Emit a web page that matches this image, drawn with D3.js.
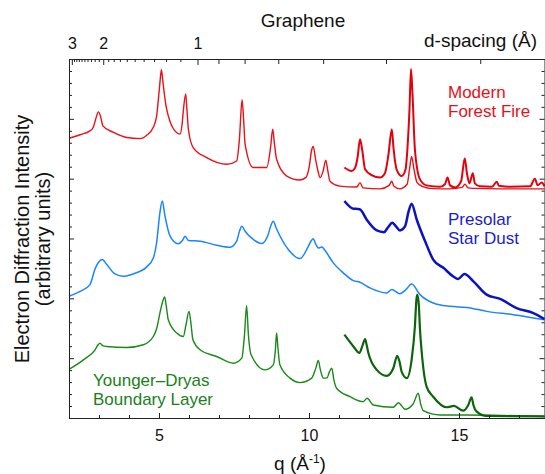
<!DOCTYPE html>
<html>
<head>
<meta charset="utf-8">
<script src="https://cdn.jsdelivr.net/npm/d3@7"></script>
<style>
  body { margin: 0; background: #fff; }
  svg { display: block; font-family: 'Liberation Sans', Arial, Helvetica, sans-serif; }
</style>
</head>
<body>
<div id="chart"></div>
<script>
// [q (1/A), intensity (arbitrary units)]
const fire = [[2.00,23.38],[2.37,23.67],[2.70,23.99],[2.81,24.30],[2.90,25.06],[2.98,25.58],[3.05,25.22],[3.13,24.41],[3.47,23.88],[3.92,23.44],[4.37,23.35],[4.59,23.63],[4.81,24.30],[4.92,25.22],[4.98,26.65],[5.03,27.99],[5.08,29.10],[5.12,28.33],[5.17,27.24],[5.23,26.15],[5.31,25.25],[5.53,23.99],[5.70,23.72],[5.77,24.55],[5.81,25.64],[5.89,27.07],[5.93,25.81],[5.98,24.13],[6.14,22.60],[6.59,21.76],[7.26,21.20],[7.59,21.48],[7.68,23.30],[7.77,26.59],[7.82,24.97],[7.87,22.88],[8.14,20.93],[8.59,20.93],[8.72,22.63],[8.79,24.13],[8.85,22.88],[8.92,21.62],[9.26,20.22],[9.70,19.89],[9.90,20.11],[10.02,21.20],[10.08,22.29],[10.14,22.69],[10.22,21.62],[10.30,20.62],[10.37,20.09],[10.47,20.62],[10.56,21.54],[10.63,20.62],[10.70,19.78],[11.03,19.38],[11.59,19.30],[11.70,19.67],[11.80,19.23],[12.37,19.15],[12.67,19.44],[12.76,19.78],[12.83,19.36],[13.03,19.15],[13.27,19.53],[13.35,20.78],[13.42,21.85],[13.50,20.78],[13.60,19.69],[13.77,19.36],[14.14,19.17],[14.70,19.15],[15.10,19.27],[15.20,19.53],[15.30,19.23],[15.47,19.19],[16.37,19.15],[17.03,19.15],[17.85,19.15]];
const fireZoom = [[11.18,20.93],[11.42,20.64],[11.53,20.87],[11.62,21.79],[11.70,23.30],[11.77,22.46],[11.87,20.78],[12.10,20.28],[12.37,20.09],[12.53,20.45],[12.65,22.04],[12.76,24.13],[12.82,22.46],[12.92,20.78],[13.09,20.22],[13.22,20.78],[13.28,22.46],[13.35,25.81],[13.40,29.16],[13.45,27.07],[13.53,22.46],[13.70,19.94],[13.92,19.44],[14.37,19.32],[14.53,19.53],[14.62,20.09],[14.70,19.44],[14.87,19.27],[15.07,19.78],[15.19,21.68],[15.27,20.36],[15.35,19.61],[15.46,20.45],[15.53,19.61],[15.70,19.36],[16.10,19.32],[16.26,19.75],[16.33,19.40],[16.70,19.32],[17.37,19.36],[17.53,20.00],[17.62,19.44],[17.76,19.69],[17.85,19.36]];
const dust = [[2.00,10.18],[2.37,10.58],[2.70,11.15],[2.87,12.46],[2.98,12.99],[3.11,13.24],[3.26,12.82],[3.53,12.04],[3.81,11.84],[4.14,12.04],[4.59,12.63],[4.81,13.38],[4.92,14.64],[5.03,17.15],[5.11,18.13],[5.20,16.87],[5.37,15.19],[5.64,14.56],[5.78,14.83],[5.87,15.19],[5.98,14.83],[6.37,14.78],[6.92,14.44],[7.37,14.27],[7.59,14.78],[7.68,15.59],[7.76,16.03],[7.87,15.61],[8.14,14.92],[8.42,14.58],[8.64,15.34],[8.73,16.09],[8.81,16.45],[8.90,15.92],[8.98,15.48],[9.31,14.08],[9.70,13.32],[9.98,14.36],[10.08,14.83],[10.14,14.97],[10.23,14.50],[10.31,14.20],[10.43,14.30],[10.53,14.02],[10.81,12.96],[11.14,12.13],[11.48,11.48],[11.70,11.34],[12.03,10.87],[12.59,10.45],[12.76,10.73],[13.03,10.39],[13.23,10.73],[13.42,11.20],[13.70,10.31],[14.14,9.61],[14.70,9.33],[15.26,9.24],[15.92,8.91],[16.81,8.63],[17.85,8.21]];
const dustZoom = [[11.18,18.13],[11.48,17.49],[11.63,17.47],[11.70,17.43],[11.92,16.59],[12.26,15.67],[12.50,15.53],[12.63,15.92],[12.78,16.31],[12.90,16.01],[13.03,15.67],[13.20,16.01],[13.32,17.26],[13.42,17.91],[13.59,16.59],[13.87,14.77],[14.14,13.24],[14.48,12.55],[14.81,11.82],[14.97,11.61],[15.18,12.03],[15.48,11.42],[15.92,10.31],[16.37,9.95],[16.92,9.19],[17.48,8.77],[17.85,8.27]];
const ydb = [[2.00,4.06],[2.48,4.86],[2.87,5.70],[2.97,6.12],[3.03,6.26],[3.13,6.03],[3.26,5.98],[3.92,5.89],[4.48,6.12],[4.81,6.81],[4.93,7.54],[5.03,8.77],[5.12,9.72],[5.19,10.11],[5.25,9.22],[5.31,8.21],[5.59,7.10],[5.81,6.81],[5.90,7.79],[6.00,8.91],[6.07,7.79],[6.13,6.54],[6.37,5.70],[6.92,5.14],[7.48,4.58],[7.76,5.00],[7.85,6.96],[7.92,9.39],[7.98,6.96],[8.07,5.28],[8.53,4.02],[8.81,4.44],[8.88,5.70],[8.92,7.10],[8.97,5.70],[9.03,4.44],[9.37,3.33],[9.70,2.96],[10.09,3.33],[10.23,4.19],[10.31,4.80],[10.38,4.02],[10.48,3.33],[10.60,3.35],[10.68,3.85],[10.76,4.16],[10.83,3.18],[10.92,2.49],[11.37,1.78],[11.81,1.37],[11.94,1.65],[12.14,1.09],[12.81,0.90],[12.98,1.28],[13.20,0.73],[13.47,1.17],[13.64,2.07],[13.73,1.09],[13.81,0.61],[14.37,0.25],[15.26,0.25],[17.85,0.13]];
const ydbZoom = [[11.18,6.96],[11.48,5.98],[11.68,5.43],[11.78,6.03],[11.87,6.60],[11.92,6.12],[11.98,5.43],[12.26,4.02],[12.59,3.52],[12.81,4.16],[12.94,5.20],[13.02,4.69],[13.09,3.85],[13.26,3.33],[13.42,4.86],[13.53,7.65],[13.58,9.89],[13.61,10.31],[13.66,9.47],[13.70,7.37],[13.76,5.43],[13.92,2.62],[14.14,1.78],[14.59,0.90],[14.83,1.01],[15.14,0.61],[15.31,1.09],[15.42,1.73],[15.48,1.09],[15.59,0.53],[15.92,0.17],[17.85,0.13]];

const qMajor = [5, 10, 15];
const qMinor = [3, 4, 6, 7, 8, 9, 11, 12, 13, 14, 16, 17];
const dMajor = [3, 2, 1];
const dMinor = [2.9, 2.8, 2.7, 2.6, 2.5, 2.4, 2.3, 2.2, 2.1, 1.9, 1.8, 1.7, 1.6, 1.5, 1.4, 1.3, 1.2, 1.1];
const dSub = [0.9, 0.8, 0.7, 0.6, 0.5, 0.4];
const yMajor = [0, 5, 10, 15, 20, 25, 30];
const yMinor = d3.range(1, 30).filter(v => v % 5 !== 0);

const W = 545, H = 474;
const box = { left: 69, right: 544.5, top: 59, bottom: 418 };

const svg = d3.select('#chart').append('svg').attr('width', W).attr('height', H);

const x = d3.scaleLinear().domain([2, 17.85]).range([box.left, box.right]);
const y = d3.scaleLinear().domain([0, 30]).range([box.bottom, box.top]);

const line = d3.line().x(d => x(d[0])).y(d => y(d[1])).curve(d3.curveMonotoneX);

// curves
const curves = [
  { data: ydb, color: '#188a18', w: 1.4 },
  { data: ydbZoom, color: '#0c650c', w: 2.2 },
  { data: dust, color: '#1a85ff', w: 1.5 },
  { data: dustZoom, color: '#0a12c4', w: 2.5 },
  { data: fire, color: '#ec0f16', w: 1.4 },
  { data: fireZoom, color: '#e4000c', w: 2.0 }
];
svg.append('g').selectAll('path').data(curves).enter().append('path')
  .attr('d', d => line(d.data))
  .attr('fill', 'none')
  .attr('stroke', d => d.color)
  .attr('stroke-width', d => d.w)
  .attr('stroke-linejoin', 'round');

// axes, ticks point inward
function styleAxis(g, keepDomain) {
  g.attr('font-family', null).attr('font-size', null);
  g.selectAll('line').attr('stroke', '#222');
  g.select('.domain').attr('stroke', '#222');
  if (!keepDomain) g.select('.domain').remove();
  g.selectAll('text').attr('fill', '#111').style('font-size', '16px');
}

svg.append('g').attr('transform', `translate(0,${box.bottom})`)
  .call(d3.axisBottom(x).tickValues(qMajor).tickSizeInner(-5).tickSizeOuter(0).tickPadding(11.5))
  .call(g => styleAxis(g, true));
svg.append('g').attr('transform', `translate(0,${box.bottom})`)
  .call(d3.axisBottom(x).tickValues(qMinor).tickSizeInner(-3).tickSizeOuter(0).tickFormat(''))
  .call(g => styleAxis(g, false));

const dq = d => 2 * Math.PI / d;
svg.append('g').attr('transform', `translate(0,${box.top})`)
  .call(d3.axisTop(x).tickValues(dMajor.map(dq)).tickSizeInner(-6).tickSizeOuter(0).tickPadding(10.5)
    .tickFormat(q => d3.format('d')(Math.round(2 * Math.PI / q))))
  .call(g => styleAxis(g, true));
svg.append('g').attr('transform', `translate(0,${box.top})`)
  .call(d3.axisTop(x).tickValues(dMinor.map(dq)).tickSizeInner(-3).tickSizeOuter(0).tickFormat(''))
  .call(g => styleAxis(g, false));
svg.append('g').attr('transform', `translate(0,${box.top})`)
  .call(d3.axisTop(x).tickValues(dSub.map(dq)).tickSizeInner(-5).tickSizeOuter(0).tickFormat(''))
  .call(g => styleAxis(g, false));

svg.append('g').attr('transform', `translate(${box.left},0)`)
  .call(d3.axisLeft(y).tickValues(yMajor).tickSizeInner(-5).tickSizeOuter(0).tickFormat(''))
  .call(g => styleAxis(g, true));
svg.append('g').attr('transform', `translate(${box.left},0)`)
  .call(d3.axisLeft(y).tickValues(yMinor).tickSizeInner(-3).tickSizeOuter(0).tickFormat(''))
  .call(g => styleAxis(g, false));
svg.append('g').attr('transform', `translate(${box.right},0)`)
  .call(d3.axisRight(y).tickValues(yMajor).tickSizeInner(-5).tickSizeOuter(0).tickFormat(''))
  .call(g => styleAxis(g, true));
svg.append('g').attr('transform', `translate(${box.right},0)`)
  .call(d3.axisRight(y).tickValues(yMinor).tickSizeInner(-3).tickSizeOuter(0).tickFormat(''))
  .call(g => styleAxis(g, false));

// titles
svg.append('text').attr('x', 303).attr('y', 27).attr('text-anchor', 'middle')
  .style('font-size', '19px').attr('fill', '#111').text('Graphene');
svg.append('text').attr('x', 537).attr('y', 47).attr('text-anchor', 'end')
  .style('font-size', '19px').attr('fill', '#111').text('d-spacing (Å)');

const xl = svg.append('text').attr('x', 300).attr('y', 470).attr('text-anchor', 'middle')
  .style('font-size', '19px').attr('fill', '#111');
xl.append('tspan').text('q (Å');
xl.append('tspan').attr('dy', -7).style('font-size', '12px').text('-1');
xl.append('tspan').attr('dy', 7).text(')');

svg.append('text').attr('transform', 'translate(29,239) rotate(-90)').attr('text-anchor', 'middle')
  .style('font-size', '20px').attr('fill', '#111').text('Electron Diffraction Intensity');
svg.append('text').attr('transform', 'translate(50,239) rotate(-90)').attr('text-anchor', 'middle')
  .style('font-size', '20px').attr('fill', '#111').text('(arbitrary units)');

// series labels
const labels = [
  { lines: ['Modern', 'Forest Fire'], x: 448, y: 98, color: '#e8101a' },
  { lines: ['Presolar', 'Star Dust'], x: 448, y: 225, color: '#1c1ccc' },
  { lines: ['Younger–Dryas', 'Boundary Layer'], x: 93, y: 386, color: '#1a7f1a' }
];
labels.forEach(l => {
  const t = svg.append('text').attr('x', l.x).attr('y', l.y).style('font-size', '17px').attr('fill', l.color);
  l.lines.forEach((s, i) => t.append('tspan').attr('x', l.x).attr('dy', i ? 19 : 0).text(s));
});
</script>
</body>
</html>
